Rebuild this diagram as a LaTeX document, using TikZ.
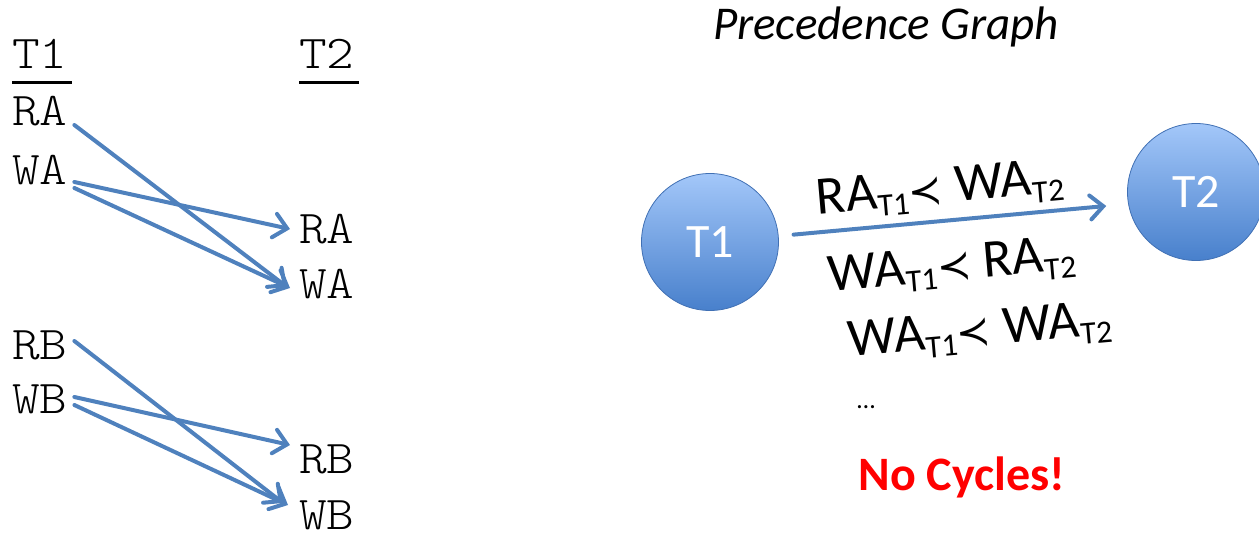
\documentclass[tikz,border=0pt]{standalone}
\usepackage{fontspec}
\setmainfont{Carlito}
\newfontfamily\symfont{DejaVu Sans}
\newfontfamily\courfont[FakeStretch=1.12]{Latin Modern Mono Light}
\usetikzlibrary{arrows.meta}
\definecolor{linkblue}{RGB}{79,129,189}
\definecolor{ballTop}{RGB}{163,199,249}
\definecolor{ballBot}{RGB}{72,128,204}
\definecolor{ballEdge}{RGB}{64,112,180}
\newcommand\opsub[1]{\raisebox{-8pt}{\fontsize{32}{32}\selectfont #1}}
\newcommand\precsym{{\symfont\fontsize{41}{41}\selectfont ≺}}
\begin{document}
\begin{tikzpicture}[x=1pt,y=-1pt,
  op/.style={font=\courfont\fontsize{47}{47}\selectfont, inner xsep=2pt, inner ysep=0pt,
    text height=27pt, text depth=0pt, anchor=west},
  flow/.style={draw=linkblue, line width=4pt, line cap=round,
    -{Straight Barb[length=13pt,width=24pt,line cap=round]}},
  txnode/.style={circle, minimum size=137pt, inner sep=0pt, draw=ballEdge, line width=0.8pt,
    top color=ballTop, bottom color=ballBot, text=white, font=\fontsize{48}{48}\selectfont},
  order/.style={font=\fontsize{54}{54}\selectfont, rotate=5, inner sep=0pt}]
\useasboundingbox (0,0) rectangle (1259,536);

% ---- schedule columns ----
\node[op] (h1) at (10,55) {T1};
\node[op] (h2) at (297,55) {T2};
\draw[line width=3pt] ([xshift=2pt,yshift=-13.5pt]h1.south west) -- ([xshift=2pt,yshift=-13.5pt]h1.south east);
\draw[line width=3pt] ([xshift=2pt,yshift=-13.5pt]h2.south west) -- ([xshift=2pt,yshift=-13.5pt]h2.south east);

\node[op] (ra1) at (10,112) {RA};
\node[op] (wa1) at (10,171) {WA};
\node[op] (ra2) at (297,230) {RA};
\node[op] (wa2) at (297,285) {WA};

\node[op] (rb1) at (10,346) {RB};
\node[op] (wb1) at (10,400) {WB};
\node[op] (rb2) at (297,460) {RB};
\node[op] (wb2) at (297,516) {WB};

% conflicting operations on A
\draw[flow] ([xshift=4.7pt,yshift=-13pt]ra1.east) -- ([xshift=-10pt,yshift=-2pt]wa2.west);
\draw[flow] ([xshift=4.7pt,yshift=-11pt]wa1.east) -- ([xshift=-7pt,yshift=1pt]ra2.west);
\draw[flow] ([xshift=4.7pt,yshift=-17pt]wa1.east) -- ([xshift=-7pt,yshift=-3pt]wa2.west);

% conflicting operations on B
\draw[flow] ([xshift=4.7pt,yshift=5pt]rb1.east) -- ([xshift=-14pt,yshift=13pt]wb2.west);
\draw[flow] ([xshift=4.7pt,yshift=3pt]wb1.east) -- ([xshift=-7pt,yshift=15pt]rb2.west);
\draw[flow] ([xshift=4.7pt,yshift=-5pt]wb1.east) -- ([xshift=-9pt,yshift=11pt]wb2.west);

% ---- precedence graph ----
\node[font=\itshape\fontsize{47}{47}\selectfont] (title) at (886,27) {Precedence Graph};

\node[txnode] (t1) at (710,242) {T1};
\node[txnode] (t2) at (1196,192) {T2};
\draw[flow, shorten <=15pt, shorten >=22pt] (t1.5) -- (t2.190);

\node[order] (c1) at (940,190) {RA\opsub{T1}\precsym\ WA\opsub{T2}};
\node[order] (c2) at (952,267) {WA\opsub{T1}\precsym\ RA\opsub{T2}};
\node[order] (c3) at (980,332) {WA\opsub{T1}\precsym\ WA\opsub{T2}};
\node[font=\fontsize{26}{26}\selectfont] (dots) at (866,407) {…};

\node[font=\bfseries\fontsize{48}{48}\selectfont, text=red] (verdict) at (962,477) {No Cycles!};
\end{tikzpicture}
\end{document}
